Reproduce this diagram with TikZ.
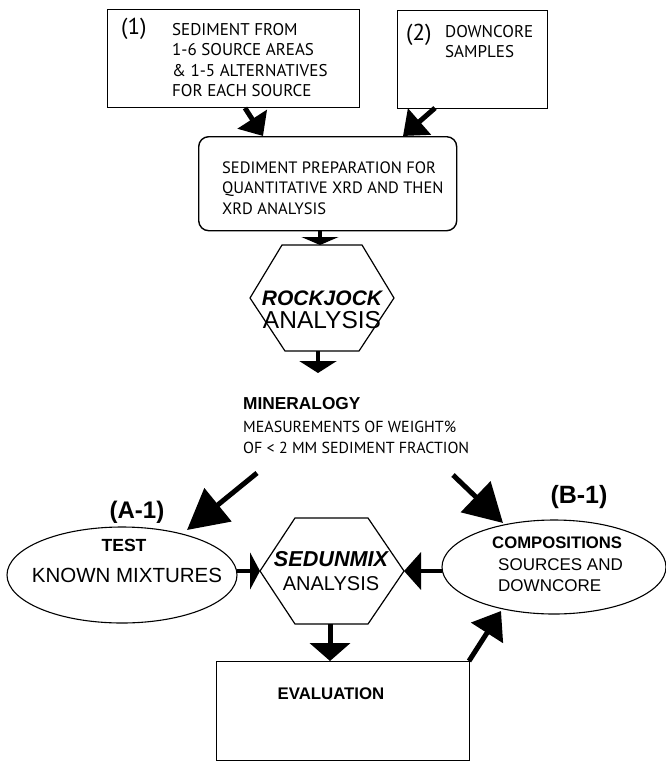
\documentclass[tikz,border=0pt]{standalone}
\usepackage{fontspec}
\newfontfamily\mf{PT Sans}
\newfontfamily\af{Liberation Sans}
\usetikzlibrary{arrows.meta}
\tikzset{
  boxline/.style={draw, line width=1.4pt},
  txt/.style={inner sep=0pt, anchor=base west},
  ltxt/.style={inner sep=0pt, anchor=base west, text height=12pt, text depth=2pt},
  ctxt/.style={inner sep=0pt, anchor=base},
  arr/.style={line width=#1, line cap=butt},
}
\newcommand{\fs}[1]{\fontsize{#1}{#1}\selectfont}
\begin{document}
\begin{tikzpicture}[x=1pt,y=-1pt]
\useasboundingbox (0,0) rectangle (666,761);
% boxes
\node[boxline, minimum width=252pt, minimum height=98pt, anchor=north west, inner sep=0pt] (b1) at (107,9) {};
\node[boxline, minimum width=150pt, minimum height=98pt, anchor=north west, inner sep=0pt] (b2) at (397,10) {};
\node[boxline, rounded corners=10pt, minimum width=258pt, minimum height=94pt, anchor=north west, inner sep=0pt] (b3) at (198,136) {};
\node[boxline, minimum width=253pt, minimum height=99pt, anchor=north west, inner sep=0pt] (ev) at (216,661) {};
% box texts
\node[txt, font=\mf\fs{23}] (n1) at (121,34) {(1)};
\node[ltxt, font=\mf\fs{17}] (t1a) at (172,35) {SEDIMENT FROM};
\node[ltxt, font=\mf\fs{17}] (t1b) at (172,55) {1-6 SOURCE AREAS};
\node[ltxt, font=\mf\fs{17}] (t1c) at (172,76) {\& 1-5 ALTERNATIVES};
\node[ltxt, font=\mf\fs{17}] (t1d) at (172,96) {FOR EACH SOURCE};
\node[txt, font=\mf\fs{23}] (n2) at (406,40) {(2)};
\node[inner sep=0pt, anchor=north west, align=left, font=\mf\fontsize{17}{20}\selectfont] (t2) at (445,25) {DOWNCORE\\SAMPLES};
\node[ltxt, font=\mf\fs{16.5}] (t3a) at (222,173) {SEDIMENT PREPARATION FOR};
\node[ltxt, font=\mf\fs{16.5}] (t3b) at (222,193) {QUANTITATIVE XRD AND THEN};
\node[ltxt, font=\mf\fs{16.5}] (t3c) at (222,214) {XRD ANALYSIS};
% hexagon 1
\coordinate (h1t1) at (282,245); \coordinate (h1t2) at (362,245);
\coordinate (h1r) at (394,298); \coordinate (h1b2) at (359,351);
\coordinate (h1b1) at (285,351); \coordinate (h1l) at (250,298);
\draw[line width=1.2pt] (h1t1) -- (h1t2) -- (h1r) -- (h1b2) -- (h1b1) -- (h1l) -- cycle;
\node[ctxt, font=\af\bfseries\itshape\fs{21}] (rj) at (322,305) {ROCKJOCK};
\node[ctxt, font=\af\fs{24.5}] (rja) at (322,328) {ANALYSIS};
% mineralogy
\node[ltxt, font=\af\bfseries\fs{17.3}] (m1) at (243,409) {MINERALOGY};
\node[ltxt, font=\mf\fs{16}] (m2) at (243,432) {MEASUREMENTS OF WEIGHT\%};
\node[ltxt, font=\mf\fs{16}] (m3) at (243,453) {OF < 2 MM SEDIMENT FRACTION};
% labels
\node[ctxt, font=\af\bfseries\fs{24}] (la) at (137,518) {(A-1)};
\node[ctxt, font=\af\bfseries\fs{25}] (lb) at (579,503) {(B-1)};
% ellipses
\draw[line width=1.1pt] (122,575) ellipse [x radius=115, y radius=48];
\draw[line width=1.1pt] (554,567) ellipse [x radius=112, y radius=47];
\node[ctxt, font=\af\bfseries\fs{17.6}] (te) at (124,551) {TEST};
\node[ctxt, font=\af\fs{20.5}] (km) at (127,582) {KNOWN MIXTURES};
\node[ltxt, font=\af\bfseries\fs{16.7}] (co) at (492,548) {COMPOSITIONS};
\node[ltxt, font=\af\fs{17}] (sa) at (498,570) {SOURCES AND};
\node[ltxt, font=\af\fs{17}] (dc) at (498,591) {DOWNCORE};
% hexagon 2
\coordinate (h2t1) at (295,518); \coordinate (h2t2) at (368,518);
\coordinate (h2r) at (404,571); \coordinate (h2b2) at (368,624);
\coordinate (h2b1) at (295,624); \coordinate (h2l) at (260,571);
\draw[line width=1.2pt] (h2t1) -- (h2t2) -- (h2r) -- (h2b2) -- (h2b1) -- (h2l) -- cycle;
\node[ctxt, font=\af\bfseries\itshape\fs{21.6}] (sx) at (331,566) {SEDUNMIX};
\node[ctxt, font=\af\fs{20}] (sxa) at (331,590) {ANALYSIS};
\node[ctxt, font=\af\bfseries\fs{16.8}] (evt) at (331,699) {EVALUATION};
% arrow end points
\coordinate (a1s) at (245,108); \coordinate (a1e) at (263,136);
\coordinate (a2s) at (435,108); \coordinate (a2e) at (403,136);
\coordinate (a3s) at (320,230); \coordinate (a3e) at (320,245);
\coordinate (a4s) at (318,351); \coordinate (a4e) at (318,373);
\coordinate (a5s) at (257,473); \coordinate (a5e) at (187,530);
\coordinate (a6s) at (453,475); \coordinate (a6e) at (503,523);
\coordinate (a7s) at (237,571); \coordinate (a8s) at (442,571);
\coordinate (a9s) at (330,624); \coordinate (a9e) at (330,661);
\coordinate (a10s) at (469,661); \coordinate (a10e) at (501,611);
% arrows
\draw[arr=5pt, -{Triangle[length=20pt,width=34pt]}] (a1s) -- (a1e);
\draw[arr=5pt, -{Triangle[length=22pt,width=34pt]}] (a2s) -- (a2e);
\draw[arr=4pt, -{Triangle[length=8pt,width=37pt]}] (a3s) -- (a3e);
\draw[arr=4pt, -{Triangle[length=12pt,width=37pt]}] (a4s) -- (a4e);
\draw[arr=5pt, -{Triangle[length=40pt,width=42pt]}] (a5s) -- (a5e);
\draw[arr=5pt, -{Triangle[length=38pt,width=42pt]}] (a6s) -- (a6e);
\draw[arr=4pt, -{Triangle[length=10pt,width=37pt]}] (a7s) -- (h2l);
\draw[arr=4pt, -{Triangle[length=17pt,width=37pt]}] (a8s) -- (h2r);
\draw[arr=5pt, -{Triangle[length=18pt,width=40pt]}] (a9s) -- (a9e);
\draw[arr=5pt, -{Triangle[length=26pt,width=37pt]}] (a10s) -- (a10e);
\end{tikzpicture}
\end{document}
